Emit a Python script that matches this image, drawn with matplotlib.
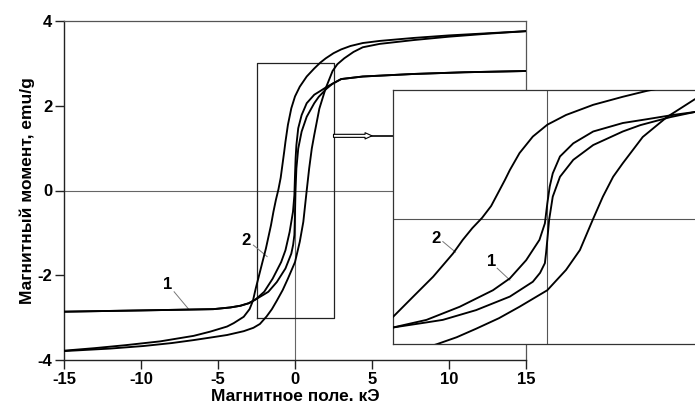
import matplotlib
matplotlib.use("Agg")
import matplotlib.pyplot as plt

plt.rcParams['font.family'] = ['Liberation Sans', 'DejaVu Sans']
plt.rcParams['font.weight'] = 'bold'

# ---- data ----
x_ticks = [-15, -10, -5, 0, 5, 10, 15]
y_ticks = [-4, -2, 0, 2, 4]
x_label = "Магнитное поле. кЭ"
y_label = "Магнитный момент, emu/g"

# curve 2 (wide loop), descending branch
c2_down_x = [15, 12.5, 10, 7.7, 5.5, 4.4, 3.6, 3.0, 2.5, 2.0, 1.65, 1.25, 0.76, 0.31, 0.0,
             -0.24, -0.46, -0.62, -0.70, -0.80, -0.93, -1.08, -1.24, -1.40, -1.56, -1.89,
             -2.22, -2.555, -2.73, -2.95, -3.33, -3.98, -4.41, -5.5, -6.58, -8.75, -11, -13, -15]
c2_down_y = [3.76, 3.71, 3.66, 3.60, 3.53, 3.48, 3.41, 3.33, 3.24, 3.12, 3.02, 2.88, 2.69, 2.45,
             2.22, 1.94, 1.55, 1.15, 0.92, 0.65, 0.30, 0.02, -0.22, -0.50, -0.82, -1.37,
             -1.84, -2.32, -2.60, -2.80, -2.98, -3.13, -3.21, -3.33, -3.43, -3.56, -3.65, -3.72, -3.78]
# curve 2, ascending branch
c2_up_x = [-15, -12, -9.84, -8, -6.58, -5.3, -4.41, -3.33, -2.7, -2.28, -1.84, -1.5, -1.18,
           -0.8, -0.46, 0.0, 0.31, 0.54, 0.76, 0.92, 1.09, 1.25, 1.58, 1.98, 2.44, 2.75, 3.2,
           3.8, 4.4, 5.5, 7.7, 10, 12.5, 15]
c2_up_y = [-3.79, -3.73, -3.67, -3.60, -3.53, -3.46, -3.41, -3.32, -3.24, -3.15, -2.97, -2.80,
           -2.60, -2.35, -2.08, -1.69, -1.21, -0.74, 0.0, 0.52, 0.99, 1.31, 1.93, 2.40, 2.82,
           2.98, 3.12, 3.27, 3.38, 3.46, 3.55, 3.63, 3.70, 3.76]
# curve 1 (narrow loop), descending branch
c1_down_x = [15, 11, 7.7, 4.4, 3.0, 2.44, 2.08, 1.65, 1.25, 0.76, 0.43, 0.21, 0.09, 0.04, 0.0,
             -0.04, -0.13, -0.35, -0.62, -0.90, -1.45, -2.0, -2.555, -3.0, -3.55, -4.2, -5.3,
             -10, -15]
c1_down_y = [2.82, 2.79, 2.75, 2.69, 2.63, 2.52, 2.45, 2.35, 2.26, 2.06, 1.78, 1.47, 1.07, 0.76,
             0.36, -0.11, -0.50, -0.98, -1.41, -1.69, -2.08, -2.39, -2.57, -2.66, -2.72, -2.76,
             -2.80, -2.83, -2.86]
# curve 1, ascending branch
c1_up_x = [-15, -10, -5.3, -4.2, -3.55, -3.0, -2.555, -2.0, -1.73, -1.18, -0.62, -0.24, -0.12,
           -0.04, -0.02, 0.0, 0.03, 0.09, 0.21, 0.43, 0.76, 1.25, 1.54, 2.04, 2.44, 3.0, 4.4,
           7.7, 11, 15]
c1_up_y = [-2.86, -2.83, -2.80, -2.76, -2.72, -2.66, -2.57, -2.45, -2.39, -2.16, -1.84, -1.49,
           -1.28, -1.05, -0.80, -0.50, -0.03, 0.52, 0.99, 1.39, 1.74, 2.06, 2.21, 2.40, 2.52,
           2.63, 2.69, 2.75, 2.79, 2.82]

zoom_x = [-2.5, 2.5]
zoom_y = [-3, 3]
inset_xlim = [-2.555, 2.48]
inset_ylim = [-2.96, 3.04]
arrow_y = 1.29

W, H = 695, 407
fig = plt.figure(figsize=(W / 100, H / 100), dpi=100)

def fx(px):
    return px / W

def fy(py):
    return 1 - py / H

ax = fig.add_axes([fx(64), fy(360), fx(526) - fx(64), fy(21) - fy(360)])
ax.set_xlim(-15, 15)
ax.set_ylim(-4, 4)

curve_kw = dict(color='black', lw=1.35, solid_joinstyle='round', solid_capstyle='round', zorder=3)
branches = [(c2_down_x, c2_down_y), (c2_up_x, c2_up_y), (c1_down_x, c1_down_y), (c1_up_x, c1_up_y)]
for xs, ys in branches:
    ax.plot(xs, ys, **curve_kw)

ax.axhline(0, color='#666666', lw=0.8, zorder=1)
ax.plot([0, 0], [-4, 0], color='#666666', lw=0.8, zorder=1)

# zoom rectangle
ax.plot([zoom_x[0], zoom_x[1], zoom_x[1], zoom_x[0], zoom_x[0]],
        [zoom_y[0], zoom_y[0], zoom_y[1], zoom_y[1], zoom_y[0]], color='#222222', lw=0.9, zorder=2)

# arrow to inset
ax.annotate('', xy=(5.0, arrow_y), xytext=(zoom_x[1], arrow_y),
            arrowprops=dict(arrowstyle='simple,head_length=0.5,head_width=0.45,tail_width=0.22',
                            fc='white', ec='black', lw=0.8, shrinkA=0, shrinkB=0), zorder=4)
ax.plot([5.0, 7.0], [arrow_y, arrow_y], color='black', lw=1.2, zorder=4, clip_on=False)

for s in ['left', 'bottom']:
    ax.spines[s].set_color('#222222')
    ax.spines[s].set_linewidth(1.0)
for s in ['top', 'right']:
    ax.spines[s].set_color('#555555')
    ax.spines[s].set_linewidth(0.9)

ax.set_xticks(x_ticks)
ax.set_yticks(y_ticks)
ax.set_xticklabels([str(t) for t in x_ticks])
ax.set_yticklabels([str(t) for t in y_ticks])
ax.tick_params(direction='out', length=6.5, width=1, color='#222222', labelsize=12, pad=2)
for lab in ax.get_xticklabels() + ax.get_yticklabels():
    lab.set_fontweight('bold')

ax.set_xlabel(x_label, fontsize=12.5, fontweight='bold')
ax.xaxis.set_label_coords(0.5, -0.085)
ax.set_ylabel(y_label, fontsize=12.5, fontweight='bold')
ax.yaxis.set_label_coords(-0.062, 0.5)

# labels in main
ax.text(-8.3, -2.23, '1', fontsize=12, fontweight='bold', ha='center', va='center')
ax.plot([-7.85, -6.93], [-2.39, -2.79], color='#777777', lw=0.7)
ax.text(-3.16, -1.17, '2', fontsize=12, fontweight='bold', ha='center', va='center')
ax.plot([-2.70, -1.81], [-1.29, -1.56], color='#777777', lw=0.7)

# ---- inset ----
ins = fig.add_axes([fx(393), fy(344), 1.003 - fx(393), fy(90) - fy(344)])
ins.set_facecolor('white')
ins.set_xlim(inset_xlim)
ins.set_ylim(inset_ylim)
for xs, ys in branches:
    ins.plot(xs, ys, **curve_kw)
ins.axhline(0, color='#555555', lw=0.8, zorder=1)
ins.axvline(0, color='#555555', lw=0.8, zorder=1)
ins.set_xticks([])
ins.set_yticks([])
for s in ins.spines.values():
    s.set_color('#333333')
    s.set_linewidth(0.9)
ins.spines['right'].set_visible(False)

ins.text(-1.85, -0.46, '2', fontsize=12, fontweight='bold', ha='center', va='center')
ins.plot([-1.73, -1.52], [-0.54, -0.79], color='#777777', lw=0.7)
ins.text(-0.93, -1.02, '1', fontsize=12, fontweight='bold', ha='center', va='center')
ins.plot([-0.83, -0.62], [-1.17, -1.45], color='#777777', lw=0.7)

fig.savefig('out.png', dpi=100)
